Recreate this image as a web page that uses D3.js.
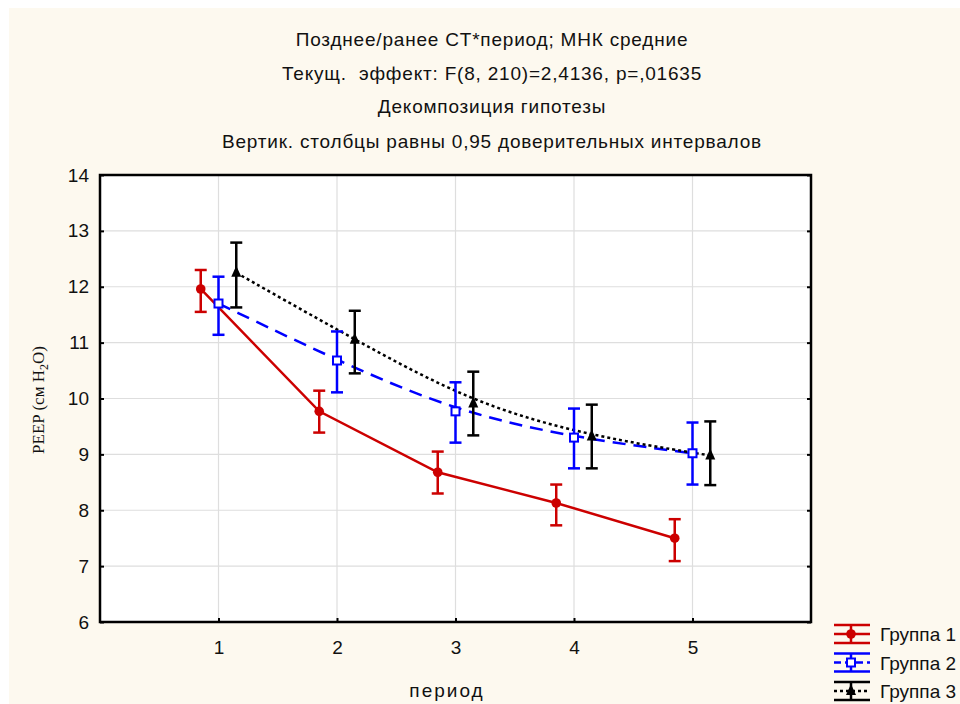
<!DOCTYPE html>
<html>
<head>
<meta charset="utf-8">
<script src="https://cdn.jsdelivr.net/npm/d3@7"></script>
<style>
  body { margin: 0; background: #fff; }
  svg text { font-family: "Liberation Sans", Arial, sans-serif; fill: #111; }
</style>
</head>
<body>
<svg id="chart" width="960" height="704"></svg>
<script>
const periods = [1, 2, 3, 4, 5]
const groups = ["Группа 1", "Группа 2", "Группа 3"]
const g1Mean = [11.96, 9.77, 8.68, 8.13, 7.50]
const g1Lo   = [11.55, 9.39, 8.30, 7.73, 7.09]
const g1Hi   = [12.30, 10.14, 9.05, 8.46, 7.84]
const g2Mean = [11.70, 10.68, 9.77, 9.30, 9.02]
const g2Lo   = [11.14, 10.11, 9.21, 8.75, 8.46]
const g2Hi   = [12.18, 11.20, 10.29, 9.82, 9.57]
const g3Mean = [12.25, 11.05, 9.91, 9.32, 8.98]
const g3Lo   = [11.63, 10.45, 9.34, 8.75, 8.45]
const g3Hi   = [12.79, 11.57, 10.48, 9.89, 9.59]
const yTicks = [6, 7, 8, 9, 10, 11, 12, 13, 14]
const titles = [
  "Позднее/ранее CT*период; МНК средние",
  "Текущ.  эффект: F(8, 210)=2,4136, p=,01635",
  "Декомпозиция гипотезы",
  "Вертик. столбцы равны 0,95 доверительных интервалов"
]

const series = [
  { name: groups[0], mean: g1Mean, lo: g1Lo, hi: g1Hi, shift: -0.15, color: "#cc0000", dash: null, curve: d3.curveLinear, mark: "circle" },
  { name: groups[1], mean: g2Mean, lo: g2Lo, hi: g2Hi, shift: 0, color: "#0000ff", dash: "13,8", curve: d3.curveBasis, mark: "square" },
  { name: groups[2], mean: g3Mean, lo: g3Lo, hi: g3Hi, shift: 0.15, color: "#000000", dash: "3,3", curve: d3.curveBasis, mark: "triangle" }
]

const svg = d3.select("#chart")
const pLeft = 100, pRight = 811, pTop = 175, pBottom = 622

svg.append("rect").attr("x", 9).attr("y", 8).attr("width", 951).attr("height", 696).attr("fill", "#fdf9ef")

const x = d3.scaleLinear().domain([0, 6]).range([pLeft, pRight])
const y = d3.scaleLinear().domain([6, 14]).range([pBottom, pTop])

svg.append("rect").attr("x", pLeft).attr("y", pTop).attr("width", pRight - pLeft).attr("height", pBottom - pTop).attr("fill", "#fff")

// grid
svg.append("g").selectAll("line").data(yTicks.slice(1, -1)).join("line")
  .attr("x1", pLeft).attr("x2", pRight).attr("y1", d => y(d)).attr("y2", d => y(d))
  .attr("stroke", "#dedede").attr("stroke-width", 1.2)
svg.append("g").selectAll("line").data(periods).join("line")
  .attr("y1", pTop).attr("y2", pBottom).attr("x1", d => x(d)).attr("x2", d => x(d))
  .attr("stroke", "#dedede").attr("stroke-width", 1.2)

// axes
const yAxis = svg.append("g").attr("transform", `translate(${pLeft},0)`)
  .call(d3.axisLeft(y).tickValues(yTicks).tickSize(-4).tickPadding(11))
const yAxisR = svg.append("g").attr("transform", `translate(${pRight},0)`)
  .call(d3.axisRight(y).tickValues(yTicks).tickSize(-4).tickFormat(""))
const xAxis = svg.append("g").attr("transform", `translate(0,${pBottom})`)
  .call(d3.axisBottom(x).tickValues(periods).tickFormat(d3.format("d")).tickSize(-4).tickPadding(19))
;[yAxis, yAxisR, xAxis].forEach(a => {
  a.select(".domain").remove()
  a.selectAll(".tick line").attr("stroke", "#000").attr("stroke-width", 2)
  a.selectAll("text").attr("font-size", 19).attr("font-family", "Liberation Sans, Arial, sans-serif").attr("fill", "#111")
})

// lines
series.forEach(s => {
  const line = d3.line().curve(s.curve).x((d, i) => x(periods[i] + s.shift)).y(d => y(d))
  svg.append("path").datum(s.mean).attr("d", line)
    .attr("fill", "none").attr("stroke", s.color).attr("stroke-width", 2.5)
    .attr("stroke-dasharray", s.dash)
})

// error bars and markers
function drawMark(g, s, cx, cy) {
  if (s.mark === "circle") {
    g.append("circle").attr("cx", cx).attr("cy", cy).attr("r", 4.8).attr("fill", s.color)
  } else if (s.mark === "square") {
    g.append("rect").attr("x", cx - 4).attr("y", cy - 4).attr("width", 8).attr("height", 8)
      .attr("fill", "#fff").attr("stroke", s.color).attr("stroke-width", 2)
  } else {
    g.append("path").attr("d", `M${cx},${cy - 7}L${cx + 5},${cy + 4}L${cx - 5},${cy + 4}Z`).attr("fill", s.color)
  }
}

series.forEach(s => {
  const g = svg.append("g")
  periods.forEach((p, i) => {
    const cx = x(p + s.shift)
    g.append("line").attr("x1", cx).attr("x2", cx).attr("y1", y(s.lo[i])).attr("y2", y(s.hi[i]))
      .attr("stroke", s.color).attr("stroke-width", 2.5)
    ;[s.lo[i], s.hi[i]].forEach(v => {
      g.append("line").attr("x1", cx - 6).attr("x2", cx + 6).attr("y1", y(v)).attr("y2", y(v))
        .attr("stroke", s.color).attr("stroke-width", 2.5)
    })
    drawMark(g, s, cx, y(s.mean[i]))
  })
})

// frame
svg.append("rect").attr("x", pLeft).attr("y", pTop).attr("width", pRight - pLeft).attr("height", pBottom - pTop)
  .attr("fill", "none").attr("stroke", "#000").attr("stroke-width", 2.5)

// titles
svg.append("g").selectAll("text").data(titles).join("text")
  .attr("x", 492).attr("y", (d, i) => [46, 80, 113, 148][i])
  .attr("text-anchor", "middle").attr("font-size", 19).style("letter-spacing", "0.8px")
  .style("white-space", "pre").text(d => d)

svg.append("text").attr("x", 447).attr("y", 697).attr("text-anchor", "middle").attr("font-size", 19)
  .style("letter-spacing", "2px").text("период")

const yl = svg.append("text").attr("transform", "translate(44,400) rotate(-90)")
  .attr("text-anchor", "middle").attr("font-size", 17)
  .style("font-family", "'Liberation Serif', 'Times New Roman', serif")
yl.append("tspan").text("PEEP (см H")
yl.append("tspan").attr("font-size", 12).attr("dy", 4).text("2")
yl.append("tspan").attr("dy", -4).text("O)")

// legend
const leg = svg.append("g")
series.forEach((s, i) => {
  const cy = 634 + i * 28.5
  const g = leg.append("g")
  g.append("line").attr("x1", 834).attr("x2", 870).attr("y1", cy - 9).attr("y2", cy - 9).attr("stroke", s.color).attr("stroke-width", 2.5)
  g.append("line").attr("x1", 834).attr("x2", 870).attr("y1", cy + 9).attr("y2", cy + 9).attr("stroke", s.color).attr("stroke-width", 2.5)
  g.append("line").attr("x1", 851).attr("x2", 851).attr("y1", cy - 9).attr("y2", cy + 9).attr("stroke", s.color).attr("stroke-width", 2.5)
  g.append("line").attr("x1", 834).attr("x2", 870).attr("y1", cy).attr("y2", cy).attr("stroke", s.color).attr("stroke-width", 2.5)
    .attr("stroke-dasharray", s.dash ? (s.mark === "square" ? "7,4" : "3,3") : null)
  drawMark(g, s, 851, cy)
  g.append("text").attr("x", 880).attr("y", cy + 7).attr("font-size", 19).text(s.name)
})
</script>
</body>
</html>
